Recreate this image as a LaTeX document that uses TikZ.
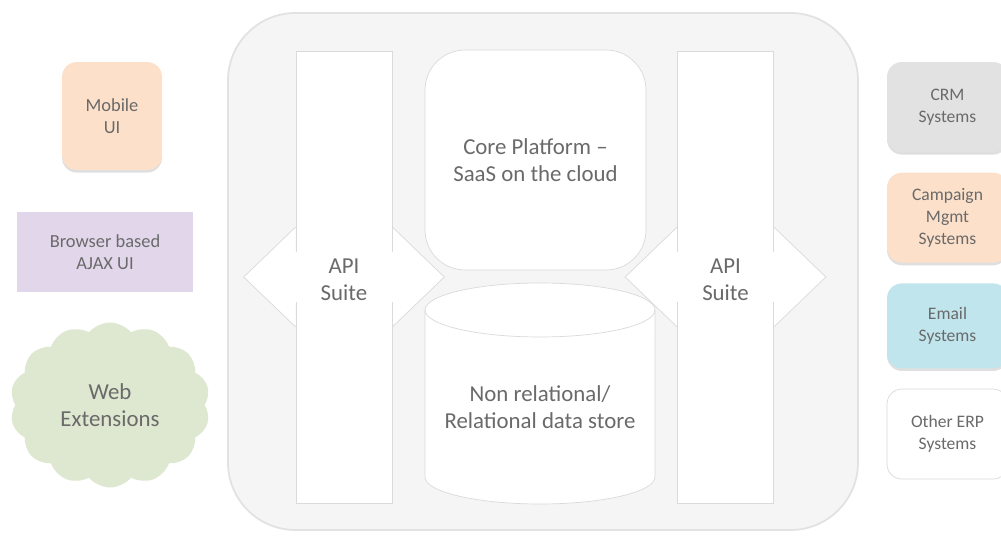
\documentclass[tikz,border=0pt]{standalone}
\usepackage{fontspec}
\setmainfont{Carlito}
\usetikzlibrary{positioning,shapes.symbols,shadows}
\pgfdeclarelayer{back}
\pgfsetlayers{back,main}

\definecolor{txtgray}{HTML}{6A6A6A}
\definecolor{linegray}{HTML}{DADADA}
\definecolor{framegray}{HTML}{E2E2E2}
\definecolor{framefill}{HTML}{F5F5F5}
\definecolor{peach}{HTML}{FCE0CA}
\definecolor{lavender}{HTML}{E2D6EB}
\definecolor{webgreen}{HTML}{DEE7CF}
\definecolor{crmgray}{HTML}{E2E2E2}
\definecolor{mailblue}{HTML}{C0E5ED}

\begin{document}
\begin{tikzpicture}[x=0.02cm, y=-0.02cm, node distance=0.4cm,
  every node/.style={text=txtgray, align=center},
  big/.style={font=\fontsize{13}{15.5}\selectfont},
  small/.style={font=\fontsize{10.5}{12.5}\selectfont},
  apicol/.style={draw=linegray, fill=white, minimum width=1.92cm, minimum height=9.04cm},
  sysbox/.style={rounded corners=0.3cm, minimum width=2.42cm, minimum height=1.8cm, font=\fontsize{10}{12.5}\selectfont},
  lift/.style={drop shadow={shadow xshift=0pt, shadow yshift=-1.5pt, opacity=0.25}}]
\useasboundingbox (0,0) rectangle (1001,536);

% the two API suites, drawn over the arrows
\node[apicol] (apiL) at (344,277) {};
\node[apicol] (apiR) at (725.5,277) {};

\begin{pgfonlayer}{back}
\fill[white] (0,0) rectangle (1001,536);
\draw[framegray, fill=framefill, line width=1pt, rounded corners=1.35cm] (228,13) rectangle (858,530);
\node[draw=linegray, fill=white, rounded corners=0.8cm, minimum width=4.42cm, minimum height=4.4cm, big] (core) at (535.5,160) {Core Platform –\\SaaS on the cloud};
% data store cylinder
\draw[linegray, fill=white] (425,310) -- (425,477) arc[start angle=180, end angle=360, x radius=2.3cm, y radius=0.54cm] -- (655,310) arc[start angle=0, end angle=180, x radius=2.3cm, y radius=0.54cm] -- cycle;
\draw[linegray] (425,310) arc[start angle=180, end angle=360, x radius=2.3cm, y radius=0.54cm];
\node[big] (store) at (540,407) {Non relational/\\Relational data store};
% arrow heads
\foreach \c in {apiL,apiR} {
  \filldraw[fill=white, draw=linegray] (\c.west) ++(0,-50) -- ++(-52,50) -- ++(52,50);
  \filldraw[fill=white, draw=linegray] (\c.east) ++(0,-50) -- ++(52,50) -- ++(-52,50);
}
\end{pgfonlayer}

% arrow shafts through the suites
\foreach \c in {apiL,apiR}
  \fill[white] ([xshift=-1pt,yshift=0.5cm]\c.west) rectangle ([xshift=1pt,yshift=-0.5cm]\c.east);
\node[big] (apiLtxt) at ([yshift=-0.06cm]apiL.center) {API\\Suite};
\node[big] (apiRtxt) at ([yshift=-0.06cm]apiR.center) {API\\Suite};

% clients
\node[fill=peach, rounded corners=0.3cm, minimum width=2cm, minimum height=2.16cm, small, lift] (mobile) at (112,116) {Mobile\\UI};
\node[fill=lavender, minimum width=3.52cm, minimum height=1.62cm, small] (browser) at (105,252) {Browser based\\AJAX UI};
\node[cloud, cloud puffs=14, cloud puff arc=100, aspect=1.25, fill=webgreen, minimum width=4cm, minimum height=3.3cm, big] (web) at (110,405) {Web\\Extensions};

% back-end systems
\node[sysbox, fill=crmgray, lift] (crm) at (947.5,107) {CRM\\Systems};
\node[sysbox, fill=peach, lift, below=of crm] (campaign) {Campaign\\Mgmt\\Systems};
\node[sysbox, fill=mailblue, lift, below=of campaign, minimum height=1.7cm] (email) {Email\\Systems};
\node[sysbox, draw=linegray, fill=white, below=of email] (erp) {Other ERP\\Systems};
\end{tikzpicture}
\end{document}
